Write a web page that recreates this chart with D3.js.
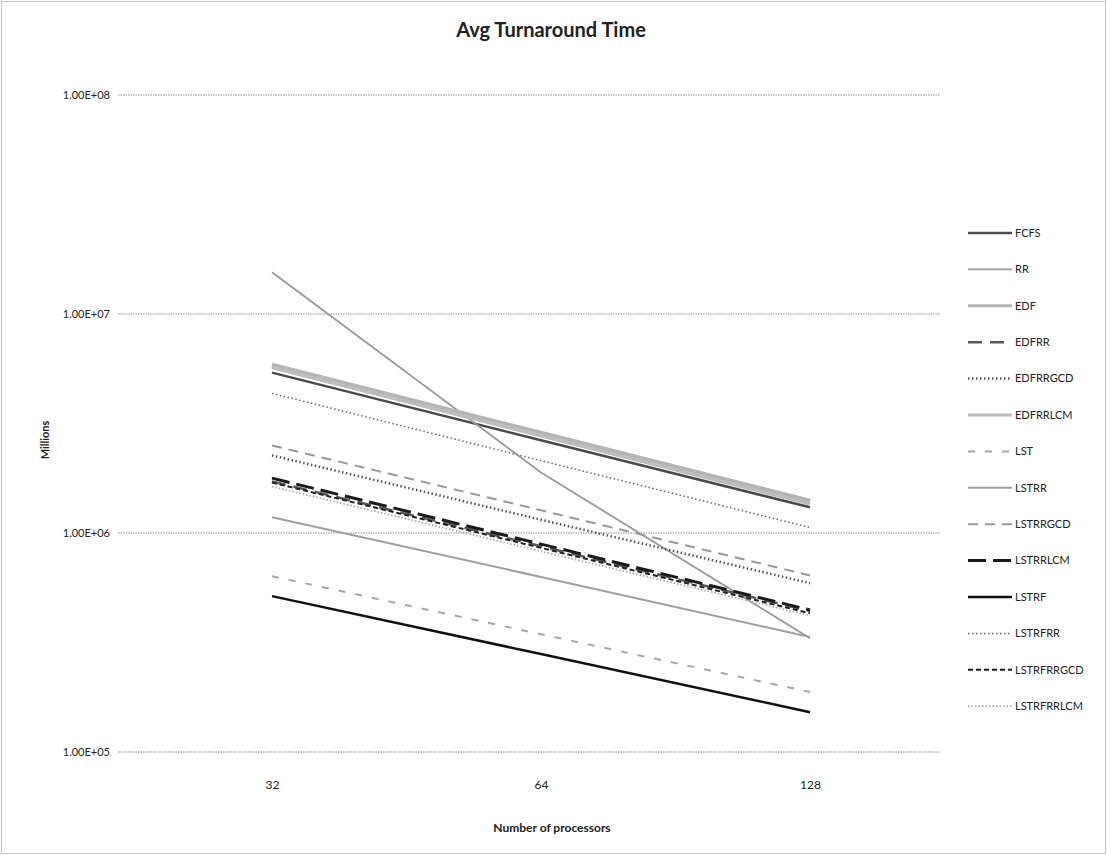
<!DOCTYPE html>
<html>
<head>
<meta charset="utf-8">
<script src="https://cdn.jsdelivr.net/npm/d3@7"></script>
<style>
  html, body { margin: 0; padding: 0; background: #fff; }
  svg { display: block; }
  text { font-family: Lato, "Open Sans", "DejaVu Sans", sans-serif; fill: #222; }
</style>
</head>
<body>
<svg id="chart" width="1107" height="855"></svg>
<script>
// Number of processors on the category axis
const processors = [32, 64, 128];

// Average turnaround time per scheduler (ms), one value per processor count
const FCFS       = [5.40e6, 2.65e6, 1.31e6];
const RR         = [1.55e7, 1.89e6, 3.31e5];
const EDF        = [5.85e6, 2.86e6, 1.40e6];
const EDFRR      = [1.72e6, 8.70e5, 4.40e5];
const EDFRRGCD   = [2.26e6, 1.15e6, 5.90e5];
const EDFRRLCM   = [5.70e6, 2.78e6, 1.36e6];
const LST        = [6.35e5, 3.45e5, 1.88e5];
const LSTRR      = [1.18e6, 6.30e5, 3.35e5];
const LSTRRGCD   = [2.51e6, 1.27e6, 6.40e5];
const LSTRRLCM   = [1.78e6, 8.90e5, 4.45e5];
const LSTRF      = [5.15e5, 2.80e5, 1.52e5];
const LSTRFRR    = [4.34e6, 2.14e6, 1.06e6];
const LSTRFRRGCD = [1.70e6, 8.55e5, 4.30e5];
const LSTRFRRLCM = [1.63e6, 8.25e5, 4.20e5];

const seriesNames = ["FCFS", "RR", "EDF", "EDFRR", "EDFRRGCD", "EDFRRLCM", "LST",
  "LSTRR", "LSTRRGCD", "LSTRRLCM", "LSTRF", "LSTRFRR", "LSTRFRRGCD", "LSTRFRRLCM"];
const seriesValues = [FCFS, RR, EDF, EDFRR, EDFRRGCD, EDFRRLCM, LST,
  LSTRR, LSTRRGCD, LSTRRLCM, LSTRF, LSTRFRR, LSTRFRRGCD, LSTRFRRLCM];

// Axis tick values and labels
const yTicks = [1e5, 1e6, 1e7, 1e8];
const yTickLabels = ["1.00E+05", "1.00E+06", "1.00E+07", "1.00E+08"];

// Line styles for each series (grey-scale print style)
const styles = {
  FCFS:       { stroke: "#4a4a4a", width: 2.5, dash: null },
  RR:         { stroke: "#9a9a9a", width: 1.8, dash: null },
  EDF:        { stroke: "#b4b4b4", width: 4.5, dash: null },
  EDFRR:      { stroke: "#5a5a5a", width: 2.5, dash: "14,8" },
  EDFRRGCD:   { stroke: "#555555", width: 2.5, dash: "1.5,2.5" },
  EDFRRLCM:   { stroke: "#bdbdbd", width: 3.5, dash: null },
  LST:        { stroke: "#a8a8a8", width: 2, dash: "7,10" },
  LSTRR:      { stroke: "#a0a0a0", width: 2, dash: null },
  LSTRRGCD:   { stroke: "#9a9a9a", width: 2, dash: "10,7" },
  LSTRRLCM:   { stroke: "#1a1a1a", width: 3, dash: "18,7" },
  LSTRF:      { stroke: "#111111", width: 2.5, dash: null },
  LSTRFRR:    { stroke: "#666666", width: 1.5, dash: "1.5,2.5" },
  LSTRFRRGCD: { stroke: "#222222", width: 2, dash: "5,3" },
  LSTRFRRLCM: { stroke: "#aaaaaa", width: 1.8, dash: "1.5,2" }
};

const svg = d3.select("#chart");
const W = 1107, H = 855;

// Outer frame
svg.append("rect")
  .attr("x", 1.5).attr("y", 1.5).attr("width", W - 3).attr("height", H - 3)
  .attr("fill", "none").attr("stroke", "#8a8a8a").attr("stroke-width", 1)
  .attr("stroke-dasharray", "1,1");

const plot = { left: 118, right: 940, top: 95, bottom: 752 };

const x = d3.scalePoint()
  .domain(processors)
  .range([272, 810]);

const y = d3.scaleLog()
  .domain([1e5, 1e8])
  .range([plot.bottom, plot.top]);

// Horizontal gridlines
svg.append("g")
  .selectAll("line")
  .data(yTicks)
  .join("line")
  .attr("x1", plot.left).attr("x2", plot.right)
  .attr("y1", d => y(d)).attr("y2", d => y(d))
  .attr("stroke", "#8c8c8c").attr("stroke-width", 1)
  .attr("stroke-dasharray", "1.5,1");

// Y axis labels
const yAxis = d3.axisLeft(y)
  .tickValues(yTicks)
  .tickFormat((d, i) => yTickLabels[i])
  .tickSize(0)
  .tickPadding(0);
const gy = svg.append("g")
  .attr("transform", `translate(${plot.left - 8},0)`)
  .call(yAxis);
gy.select(".domain").remove();
gy.selectAll("text")
  .attr("font-size", 11)
  .attr("font-family", "Lato, 'Open Sans', sans-serif")
  .attr("fill", "#333");

// X axis labels
const xAxis = d3.axisBottom(x).tickSize(0).tickPadding(0);
const gx = svg.append("g")
  .attr("transform", `translate(0,${plot.bottom + 28})`)
  .call(xAxis);
gx.select(".domain").remove();
gx.selectAll("text")
  .attr("font-size", 12)
  .attr("font-family", "Lato, 'Open Sans', sans-serif")
  .attr("fill", "#333");

// Series lines
const line = d3.line()
  .x((d, i) => x(processors[i]))
  .y(d => y(d));

const gLines = svg.append("g");
seriesNames.forEach((name, i) => {
  const s = styles[name];
  gLines.append("path")
    .datum(seriesValues[i])
    .attr("d", line)
    .attr("fill", "none")
    .attr("stroke", s.stroke)
    .attr("stroke-width", s.width)
    .attr("stroke-dasharray", s.dash)
    .attr("stroke-linecap", "butt");
});

// Legend
const legend = svg.append("g").attr("transform", "translate(968,233)");
seriesNames.forEach((name, i) => {
  const s = styles[name];
  const g = legend.append("g").attr("transform", `translate(0,${i * 36.4})`);
  g.append("line")
    .attr("x1", 0).attr("x2", 44).attr("y1", 0).attr("y2", 0)
    .attr("stroke", s.stroke)
    .attr("stroke-width", Math.min(s.width, 3))
    .attr("stroke-dasharray", s.dash);
  g.append("text")
    .attr("x", 47).attr("y", 0).attr("dy", "0.35em")
    .attr("font-size", 11)
    .attr("fill", "#333")
    .text(name);
});

// Title
svg.append("text")
  .attr("x", 551).attr("y", 37)
  .attr("text-anchor", "middle")
  .attr("font-size", 20)
  .attr("font-weight", "bold")
  .attr("fill", "#111")
  .text("Avg Turnaround Time");

// Axis titles
svg.append("text")
  .attr("transform", "translate(45,440) rotate(-90)")
  .attr("text-anchor", "middle")
  .attr("dy", "0.35em")
  .attr("font-size", 11)
  .attr("font-weight", "bold")
  .attr("fill", "#111")
  .text("Millions");

svg.append("text")
  .attr("x", 552).attr("y", 832)
  .attr("text-anchor", "middle")
  .attr("font-size", 12)
  .attr("font-weight", "bold")
  .attr("fill", "#222")
  .text("Number of processors");
</script>
</body>
</html>
